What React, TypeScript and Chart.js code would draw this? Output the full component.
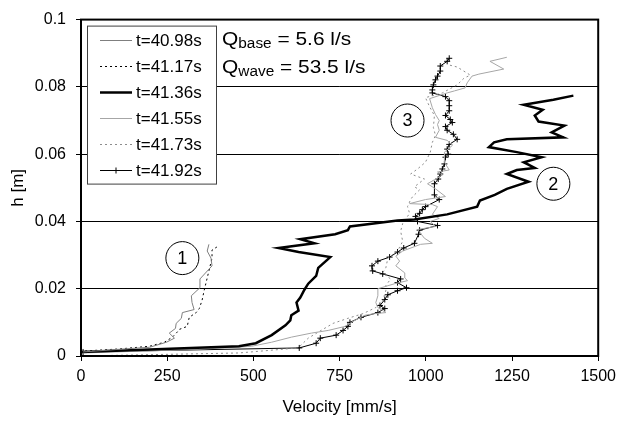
import React, { useEffect, useRef } from "react";
import { Chart, registerables } from "chart.js";
Chart.register(...registerables);

const xTickValues = [0, 250, 500, 750, 1000, 1250, 1500];
const xTickLabels = ["0", "250", "500", "750", "1000", "1250", "1500"];
const yTickLabels = ["0", "0.02", "0.04", "0.06", "0.08", "0.1"];
const seriesLabels = ["t=40.98s", "t=41.17s", "t=41.36s", "t=41.55s", "t=41.73s", "t=41.92s"];

// t=40.98s
const v4098 = [5, 112, 199, 248, 271, 256, 274, 276, 291, 294, 328, 322, 320, 345, 345, 380, 377, 366, 371];
const h4098 = [0.0012, 0.002, 0.0026, 0.0041, 0.0053, 0.0068, 0.0082, 0.0097, 0.0112, 0.0129, 0.0138, 0.0159, 0.0179, 0.0203, 0.0229, 0.0268, 0.0291, 0.0312, 0.0332];
// t=41.17s
const v4117 = [12, 112, 199, 242, 265, 279, 285, 308, 314, 334, 343, 351, 357, 371, 380, 380, 394];
const h4117 = [0.0015, 0.0021, 0.0029, 0.0041, 0.0056, 0.0071, 0.0079, 0.0088, 0.0115, 0.0129, 0.0141, 0.0165, 0.0194, 0.0253, 0.0291, 0.0315, 0.0324];
// t=41.36s
const v4136 = [0, 458, 507, 553, 593, 607, 610, 631, 625, 636, 648, 659, 682, 688, 723, 631, 573, 677, 636, 737, 774, 780, 918, 967, 1062, 1149, 1157, 1200, 1235, 1298, 1235, 1264, 1316, 1284, 1336, 1264, 1183, 1198, 1235, 1399, 1365, 1402, 1327, 1316, 1339, 1284, 1370, 1428];
const h4136 = [0.0012, 0.0029, 0.0038, 0.0062, 0.0091, 0.0106, 0.0121, 0.0135, 0.0159, 0.0174, 0.0197, 0.0215, 0.0238, 0.0262, 0.0294, 0.0309, 0.0321, 0.0335, 0.0347, 0.0362, 0.0374, 0.0385, 0.0403, 0.0406, 0.0421, 0.0444, 0.0462, 0.0479, 0.0497, 0.0518, 0.0541, 0.0553, 0.0559, 0.0576, 0.0591, 0.0606, 0.0621, 0.0635, 0.0644, 0.065, 0.0665, 0.0685, 0.0697, 0.0715, 0.0732, 0.0747, 0.0762, 0.0774];
// t=41.55s
const v4155 = [6, 285, 420, 495, 553, 610, 668, 717, 766, 789, 823, 852, 884, 861, 855, 861, 861, 910, 947, 939, 939, 913, 924, 913, 933, 985, 1019, 996, 976, 1028, 1013, 1039, 1019, 1034, 1019, 953, 999, 1057, 1028, 1005, 1025, 1048, 1034, 1068, 1054, 1054, 1077, 1062, 1028, 1039, 1034, 1039, 1028, 1019, 1011, 1062, 1083, 1114, 1120, 1134, 1154, 1226, 1186, 1235];
const h4155 = [0.0009, 0.0018, 0.0024, 0.0029, 0.0041, 0.0056, 0.0068, 0.0076, 0.0088, 0.0103, 0.0121, 0.0126, 0.0129, 0.0144, 0.0159, 0.0179, 0.02, 0.0215, 0.0224, 0.0232, 0.0247, 0.0268, 0.0282, 0.0297, 0.0312, 0.0332, 0.0335, 0.035, 0.0376, 0.0385, 0.04, 0.0409, 0.0421, 0.0444, 0.045, 0.0453, 0.0465, 0.0474, 0.0497, 0.0512, 0.0524, 0.0538, 0.0547, 0.0553, 0.0576, 0.0606, 0.0626, 0.0641, 0.065, 0.0671, 0.0688, 0.07, 0.0718, 0.0738, 0.0765, 0.0782, 0.0788, 0.0797, 0.0812, 0.0832, 0.0838, 0.0853, 0.0876, 0.0888];
// t=41.73s
const v4173 = [0, 458, 630, 659, 688, 731, 774, 818, 855, 875, 884, 884, 898, 875, 884, 890, 918, 933, 927, 933, 953, 947, 956, 962, 982, 967, 996, 956, 976, 999, 1013, 1019, 1028, 1022, 1025, 1011, 999, 1048, 1091, 1111, 1129, 1091, 1068];
const h4173 = [0, 0.0009, 0.0024, 0.0053, 0.0071, 0.0097, 0.0112, 0.0126, 0.0144, 0.0165, 0.0194, 0.0209, 0.0229, 0.0247, 0.0262, 0.0291, 0.0312, 0.0341, 0.0371, 0.0394, 0.0424, 0.0444, 0.0465, 0.0474, 0.0494, 0.0503, 0.0526, 0.0541, 0.0556, 0.0576, 0.0606, 0.0635, 0.0656, 0.0679, 0.0715, 0.0741, 0.0768, 0.0782, 0.0806, 0.0826, 0.0835, 0.0859, 0.0865];
// t=41.92s
const v4192 = [6, 633, 682, 694, 740, 760, 774, 780, 812, 861, 881, 867, 881, 890, 918, 944, 918, 927, 875, 846, 844, 861, 895, 918, 936, 967, 979, 982, 1034, 976, 970, 982, 990, 999, 1039, 1025, 1025, 1036, 1042, 1048, 1054, 1057, 1065, 1062, 1068, 1091, 1080, 1062, 1057, 1077, 1071, 1057, 1068, 1068, 1068, 1057, 1019, 1019, 1022, 1028, 1034, 1042, 1042, 1062, 1068];
const h4192 = [0.0012, 0.0024, 0.0038, 0.0053, 0.0062, 0.0076, 0.0088, 0.01, 0.0115, 0.0129, 0.0141, 0.015, 0.0168, 0.0182, 0.0194, 0.0203, 0.0218, 0.0229, 0.0244, 0.0253, 0.0268, 0.0282, 0.0294, 0.0309, 0.0321, 0.0335, 0.0362, 0.0374, 0.0388, 0.04, 0.0415, 0.0424, 0.0435, 0.0444, 0.0465, 0.0479, 0.0512, 0.0526, 0.0541, 0.0556, 0.0571, 0.0591, 0.06, 0.0615, 0.0629, 0.0644, 0.0659, 0.0671, 0.0682, 0.0694, 0.0703, 0.0715, 0.0729, 0.0744, 0.0759, 0.0771, 0.0782, 0.0791, 0.0806, 0.0821, 0.0832, 0.0847, 0.0862, 0.0876, 0.0885];

const circledLabels = ["1", "2", "3"];
const circledV = [294, 1370, 947];
const circledH = [0.0291, 0.0512, 0.07];

const FONT = "'Liberation Sans', Arial, Helvetica, sans-serif";

const pts = (v: number[], h: number[]) => v.map((x, i) => ({ x, y: h[i] }));

const styles = [
  { color: "#7f7f7f", width: 1, dash: [] as number[], marker: false },
  { color: "#000000", width: 1, dash: [2, 3], marker: false },
  { color: "#000000", width: 2.5, dash: [] as number[], marker: false },
  { color: "#a6a6a6", width: 1, dash: [] as number[], marker: false },
  { color: "#8c8c8c", width: 1, dash: [2, 3], marker: false },
  { color: "#000000", width: 1, dash: [] as number[], marker: true },
];

const overlayPlugin = {
  id: "overlay",
  afterDraw(chart: any) {
    const { ctx, chartArea } = chart;
    const { left, top, right, bottom } = chartArea;
    const xs = chart.scales.x;
    const ys = chart.scales.y;
    ctx.save();
    // frame
    ctx.strokeStyle = "#000";
    ctx.lineWidth = 2;
    ctx.strokeRect(left, top, right - left, bottom - top);

    // circled numbers
    ctx.lineWidth = 1;
    ctx.font = `18px ${FONT}`;
    ctx.textAlign = "center";
    ctx.textBaseline = "middle";
    circledLabels.forEach((t, i) => {
      const cx = xs.getPixelForValue(circledV[i]);
      const cy = ys.getPixelForValue(circledH[i]);
      ctx.fillStyle = "#fff";
      ctx.beginPath();
      ctx.arc(cx, cy, 16.5, 0, Math.PI * 2);
      ctx.fill();
      ctx.strokeStyle = "#000";
      ctx.stroke();
      ctx.fillStyle = "#000";
      ctx.fillText(t, cx, cy + 1);
    });

    // legend box
    const lx = left + 6;
    const ly = top + 6;
    const lw = 129;
    const lh = 158;
    ctx.fillStyle = "#fff";
    ctx.fillRect(lx, ly, lw, lh);
    ctx.strokeStyle = "#404040";
    ctx.lineWidth = 1;
    ctx.strokeRect(lx + 0.5, ly + 0.5, lw, lh);
    ctx.font = `17px ${FONT}`;
    ctx.textAlign = "left";
    ctx.textBaseline = "middle";
    seriesLabels.forEach((label, i) => {
      const s = styles[i];
      const y = Math.round(top + 20 + i * 26) + 0.5;
      ctx.strokeStyle = s.color;
      ctx.lineWidth = s.width;
      ctx.setLineDash(s.dash);
      ctx.beginPath();
      ctx.moveTo(left + 19, y);
      ctx.lineTo(left + 51, y);
      ctx.stroke();
      ctx.setLineDash([]);
      if (s.marker) {
        ctx.beginPath();
        ctx.moveTo(left + 35, y - 3);
        ctx.lineTo(left + 35, y + 3);
        ctx.moveTo(left + 32, y);
        ctx.lineTo(left + 38, y);
        ctx.stroke();
      }
      ctx.fillStyle = "#000";
      ctx.fillText(label, left + 55, y + 0.5);
    });

    // Q annotation (slightly widened text like the original)
    const qx = left + 141;
    const rows = [
      { sub: "base", rest: " = 5.6 l/s", base: top + 25 },
      { sub: "wave", rest: " = 53.5 l/s", base: top + 53 },
    ];
    ctx.textBaseline = "alphabetic";
    rows.forEach((r) => {
      ctx.save();
      ctx.translate(qx, r.base);
      ctx.scale(1.1, 1);
      let x = 0;
      ctx.font = `19px ${FONT}`;
      ctx.fillText("Q", x, 0);
      x += ctx.measureText("Q").width;
      ctx.font = `14px ${FONT}`;
      ctx.fillText(r.sub, x, 3);
      x += ctx.measureText(r.sub).width;
      ctx.font = `19px ${FONT}`;
      ctx.fillText(r.rest, x, 0);
      ctx.restore();
    });
    ctx.restore();
  },
};

export default function App() {
  const ref = useRef<HTMLCanvasElement | null>(null);
  useEffect(() => {
    document.body.style.margin = "0";
    const canvas = ref.current;
    if (!canvas) return;
    const data = [
      pts(v4098, h4098),
      pts(v4117, h4117),
      pts(v4136, h4136),
      pts(v4155, h4155),
      pts(v4173, h4173),
      pts(v4192, h4192),
    ];
    const chart = new Chart(canvas, {
      type: "scatter",
      data: {
        datasets: data.map((d, i) => ({
          label: seriesLabels[i],
          data: d,
          showLine: true,
          borderColor: styles[i].color,
          backgroundColor: styles[i].color,
          borderWidth: styles[i].width,
          borderDash: styles[i].dash,
          pointRadius: styles[i].marker ? 3 : 0,
          pointStyle: "cross",
          pointBorderWidth: 1,
          pointBorderColor: styles[i].color,
          tension: 0,
        })),
      },
      options: {
        responsive: false,
        animation: false,
        events: [],
        layout: { padding: { left: 0, top: 16, right: 20, bottom: 0 } },
        plugins: {
          legend: { display: false },
          tooltip: { enabled: false },
        },
        scales: {
          x: {
            type: "linear",
            min: 0,
            max: 1500,
            afterFit: (s: any) => {
              s.height = 67;
            },
            afterBuildTicks: (s: any) => {
              s.ticks = xTickValues.map((value) => ({ value }));
            },
            ticks: {
              color: "#000",
              font: { family: FONT, size: 16 },
              padding: 6,
              maxRotation: 0,
              autoSkip: false,
              callback: (_v: any, i: number) => xTickLabels[i],
            },
            grid: {
              drawOnChartArea: false,
              drawTicks: true,
              tickLength: 5,
              color: "#000",
            },
            border: { color: "#000", width: 1.5 },
            title: {
              display: true,
              text: "Velocity [mm/s]",
              color: "#000",
              font: { family: FONT, size: 17 },
              padding: { top: 0, bottom: 5 },
            },
          },
          y: {
            type: "linear",
            min: 0,
            max: 0.1,
            afterFit: (s: any) => {
              s.width = 81;
            },
            ticks: {
              stepSize: 0.02,
              color: "#000",
              font: { family: FONT, size: 16 },
              padding: 10,
              callback: (_v: any, i: number) => yTickLabels[i],
            },
            grid: {
              drawTicks: true,
              tickLength: 5,
              color: "#000",
              lineWidth: 1,
            },
            border: { color: "#000", width: 1.5 },
            title: {
              display: true,
              text: "h [m]",
              color: "#000",
              font: { family: FONT, size: 17 },
              padding: { top: 8, bottom: 0 },
            },
          },
        },
      },
      plugins: [overlayPlugin],
    } as any);
    return () => chart.destroy();
  }, []);
  return (
    <div style={{ width: 622, height: 423 }}>
      <canvas ref={ref} width={622} height={423} style={{ display: "block" }} />
    </div>
  );
}
